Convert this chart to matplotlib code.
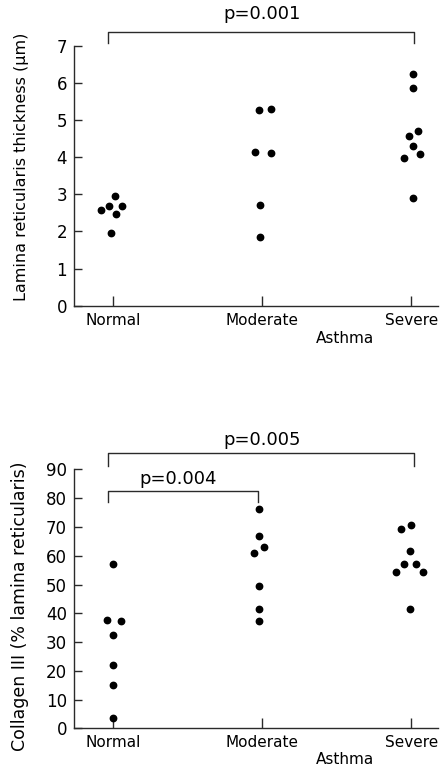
import numpy as np
import matplotlib.pyplot as plt

groups = ['Normal', 'Moderate', 'Severe']

# lamina reticularis thickness (um), with horizontal jitter
thick_normal = [2.58, 2.68, 2.94, 2.68, 2.46, 1.97]
thick_normal_dx = [-0.082, -0.027, 0.018, 0.062, 0.020, -0.013]
thick_moderate = [5.26, 5.30, 4.14, 4.10, 2.70, 1.85]
thick_moderate_dx = [-0.022, 0.060, -0.044, 0.060, -0.011, -0.011]
thick_severe = [6.23, 5.85, 4.69, 4.57, 4.31, 3.98, 4.08, 2.91]
thick_severe_dx = [0.011, 0.011, 0.044, -0.013, 0.011, -0.046, 0.062, 0.011]

# collagen III (% lamina reticularis)
coll_normal = [57.2, 37.8, 37.2, 32.4, 22.0, 14.9, 3.7]
coll_normal_dx = [0.0, -0.040, 0.055, 0.0, 0.0, 0.0, 0.0]
coll_moderate = [76.4, 66.7, 63.0, 60.9, 49.5, 41.5, 37.4]
coll_moderate_dx = [-0.018, -0.018, 0.011, -0.053, -0.018, -0.018, -0.018]
coll_severe = [69.2, 70.7, 61.7, 57.0, 57.0, 54.2, 54.2, 41.4]
coll_severe_dx = [-0.066, 0.0, -0.011, -0.049, 0.033, -0.102, 0.082, -0.011]

line_col = '#2a2a2a'


def style_axes(ax, ymax, ystep):
    ax.set_xlim(-0.26, 2.18)
    ax.set_ylim(0, ymax)
    ax.set_yticks(np.arange(0, ymax + 0.1, ystep))
    ax.set_xticks(range(len(groups)))
    ax.set_xticklabels(groups)
    for s in ['top', 'right']:
        ax.spines[s].set_visible(False)
    for s in ['left', 'bottom']:
        ax.spines[s].set_color(line_col)
        ax.spines[s].set_linewidth(1.0)
    ax.tick_params(axis='x', direction='in', length=7, width=1.0,
                   colors=line_col, labelcolor='black', labelsize=11, pad=5)
    ax.tick_params(axis='y', direction='in', length=5.5, width=1.0,
                   colors=line_col, labelcolor='black', labelsize=12, pad=5)


def bracket(ax, x0, x1, y, leg):
    ax.plot([x0, x0, x1, x1], [y - leg, y, y, y - leg], color=line_col,
            lw=1.0, clip_on=False)


fig = plt.figure(figsize=(4.44, 7.68), dpi=100)
ax1 = fig.add_axes([0.1667, 0.602, 0.82, 0.3385])
ax2 = fig.add_axes([0.1667, 0.0517, 0.82, 0.337])

for i, (vals, dx) in enumerate([(thick_normal, thick_normal_dx),
                                (thick_moderate, thick_moderate_dx),
                                (thick_severe, thick_severe_dx)]):
    ax1.plot(i + np.array(dx), vals, 'o', color='black', ms=4.6,
             clip_on=False)
style_axes(ax1, 7, 1)
ax1.set_ylabel('Lamina reticularis thickness (µm)', fontsize=11.5)
ax1.yaxis.set_label_coords(-0.125, 0.535)
ax1.set_xlabel('Asthma', fontsize=11)
ax1.xaxis.set_label_coords(0.745, -0.097)
bracket(ax1, -0.03, 2.02, 7.38, 0.32)
ax1.text(1.0, 7.85, 'p=0.001', ha='center', va='center', fontsize=13)

for i, (vals, dx) in enumerate([(coll_normal, coll_normal_dx),
                                (coll_moderate, coll_moderate_dx),
                                (coll_severe, coll_severe_dx)]):
    ax2.plot(i + np.array(dx), vals, 'o', color='black', ms=4.6,
             clip_on=False)
style_axes(ax2, 90, 10)
ax2.set_ylabel('Collagen III (% lamina reticularis)', fontsize=12.5)
ax2.yaxis.set_label_coords(-0.125, 0.47)
ax2.set_xlabel('Asthma', fontsize=11)
ax2.xaxis.set_label_coords(0.745, -0.092)
bracket(ax2, -0.03, 2.02, 95.6, 4.3)
ax2.text(1.0, 100.2, 'p=0.005', ha='center', va='center', fontsize=13)
bracket(ax2, -0.03, 0.97, 82.5, 3.7)
ax2.text(0.44, 86.6, 'p=0.004', ha='center', va='center', fontsize=13)

plt.savefig('out.png', dpi=100)
plt.close()
